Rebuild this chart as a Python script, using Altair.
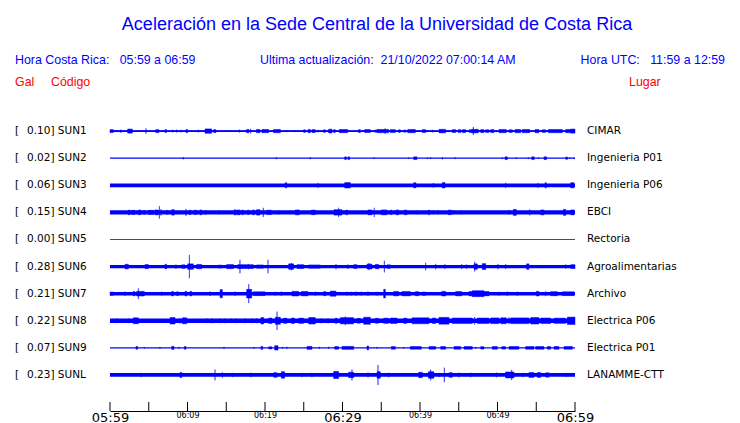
import altair as alt
import pandas as pd

# ---------------- data ----------------
stations = ["SUN1", "SUN2", "SUN3", "SUN4", "SUN5", "SUN6", "SUN7", "SUN8", "SUN9", "SUNL"]
peak_gal = ["0.10", "0.02", "0.06", "0.15", "0.00", "0.28", "0.21", "0.22", "0.07", "0.23"]
places = ["CIMAR", "Ingenieria P01", "Ingenieria P06", "EBCI", "Rectoria",
          "Agroalimentarias", "Archivo", "Electrica P06", "Electrica P01", "LANAMME-CTT"]
trace_colors = ["#0000ff", "#0000ff", "#0000ff", "#0000ff", "#ff0000",
                "#0000ff", "#0000ff", "#0000ff", "#0000ff", "#0000ff"]
# half thickness of the continuous noise band of each trace (row spacing = 10 units)
noise_level = [0.33, 0.0, 0.7, 0.75, 0.0, 0.6, 0.65, 0.8, 0.0, 0.7]

tick_minutes = [0, 5, 10, 15, 20, 25, 30, 35, 40, 45, 50, 55, 60]
label_minutes = [0, 10, 20, 30, 40, 50, 60]
label_text = ["05:59", "06:09", "06:19", "06:29", "06:39", "06:49", "06:59"]

# bursts per trace: (start minute, end minute, half amplitude)
sun1_events = [
    (0.0, 0.43, 0.55), (0.65, 0.65, 0.4), (1.0, 1.0, 0.4), (1.3, 1.5, 0.4), (2.28, 2.88, 0.75),
    (4.64, 4.64, 1.0), (5.9, 6.32, 0.55), (7.1, 7.3, 0.55), (8.09, 8.09, 0.5), (8.6, 8.6, 0.55),
    (9.16, 9.16, 0.5), (9.8, 10.0, 0.6), (11.4, 11.4, 0.5), (12.26, 13.12, 0.8), (13.38, 13.68, 0.55),
    (16.69, 16.69, 0.55), (17.63, 17.94, 0.6), (18.15, 18.15, 0.85), (18.9, 19.35, 0.6), (19.78, 19.78, 0.55),
    (19.61, 20.47, 0.6), (21.1, 21.98, 0.6), (22.84, 22.84, 0.4), (23.83, 23.83, 0.4), (24.99, 25.2, 0.5),
    (25.55, 25.85, 0.6), (26.06, 26.49, 0.55), (26.84, 26.84, 0.5), (27.57, 27.78, 0.5), (28.21, 28.64, 0.7),
    (28.86, 29.07, 0.55), (29.59, 30.66, 0.6), (32.08, 32.3, 0.55), (32.86, 33.59, 0.55), (34.15, 34.45, 0.4),
    (34.45, 35.95, 0.6), (35.5, 35.5, 1.0), (36.17, 36.81, 0.55), (37.24, 37.46, 0.5), (37.89, 38.19, 0.4),
    (38.41, 39.4, 0.6), (40.3, 40.73, 0.55), (40.95, 40.95, 0.4), (41.59, 41.59, 0.5), (42.45, 43.31, 0.65),
    (43.65, 43.65, 0.4), (44.17, 44.6, 0.55), (44.95, 45.25, 0.55), (45.46, 45.89, 0.55), (46.32, 46.67, 0.5),
    (46.88, 46.88, 1.5), (46.67, 47.53, 0.65), (47.83, 48.26, 0.55), (48.47, 48.9, 0.5), (49.12, 49.55, 0.55),
    (49.85, 49.85, 0.4), (50.19, 51.14, 0.6), (51.48, 51.91, 0.5), (52.26, 52.99, 0.6), (53.2, 54.15, 0.6),
    (54.84, 55.35, 0.6), (55.78, 56.21, 0.5), (56.56, 58.37, 0.6), (58.8, 59.44, 0.6), (59.44, 60.0, 0.75),
]
sun2_events = [
    (9.46, 9.46, 0.45), (21.46, 21.46, 0.4), (25.85, 25.85, 0.4), (30.28, 30.5, 0.5), (30.7, 30.92, 0.5),
    (34.1, 34.1, 0.3), (38.53, 38.53, 0.3), (39.18, 39.61, 0.5), (40.95, 40.95, 0.35), (41.38, 41.38, 0.35),
    (42.88, 42.88, 0.45), (44.52, 44.52, 0.35), (50.62, 50.62, 0.35), (50.97, 51.27, 0.5), (52.43, 52.43, 0.35),
    (53.98, 53.98, 0.35), (54.41, 54.75, 0.5), (55.27, 55.27, 0.35), (56.0, 56.34, 0.5), (58.8, 59.05, 0.4),
    (59.35, 59.35, 0.3), (59.9, 59.9, 0.35),
]
sun3_events = [
    (22.6, 22.8, 0.95), (26.84, 26.84, 0.9), (30.28, 31.01, 1.0), (39.18, 39.48, 0.95), (41.72, 41.72, 0.9),
    (42.88, 43.22, 1.0), (51.05, 51.05, 0.95), (55.22, 55.22, 0.9), (56.13, 56.3, 0.95), (59.44, 59.87, 0.95),
]
sun4_events = [
    (2.37, 2.58, 0.85), (2.8, 3.2, 0.75), (3.66, 4.0, 0.85), (4.3, 4.5, 0.7), (4.95, 5.6, 0.75),
    (5.8, 6.24, 0.9), (6.37, 6.37, 2.3), (6.58, 6.58, 1.2), (7.3, 7.5, 0.7), (7.96, 8.3, 1.0),
    (8.73, 8.73, 0.7), (9.8, 9.8, 1.3), (10.24, 10.45, 0.8), (10.88, 11.18, 0.8), (11.6, 11.83, 0.9),
    (12.26, 12.39, 0.7), (14.11, 14.11, 0.7), (16.04, 16.2, 1.0), (16.34, 16.78, 0.9), (17.0, 17.2, 0.85),
    (17.76, 17.94, 0.8), (18.41, 18.62, 0.9), (18.9, 19.35, 1.0), (19.78, 19.78, 1.7), (20.25, 20.81, 0.8),
    (21.76, 21.76, 0.8), (23.91, 24.43, 0.9), (25.98, 26.49, 0.85), (28.9, 29.93, 1.0), (29.5, 29.5, 1.7),
    (30.45, 30.66, 0.85), (32.08, 32.08, 0.6), (33.29, 33.8, 0.9), (34.1, 34.1, 1.7), (35.0, 35.74, 0.9),
    (36.17, 36.38, 0.8), (36.94, 37.24, 0.9), (37.98, 38.32, 0.85), (39.61, 39.61, 0.7), (41.07, 41.25, 0.85),
    (41.68, 41.68, 0.7), (42.36, 42.36, 0.75), (43.65, 44.04, 0.85), (44.3, 44.3, 0.8), (45.33, 45.33, 0.75),
    (51.48, 51.48, 0.9), (52.04, 52.43, 1.1), (54.15, 54.15, 1.1), (55.57, 56.0, 0.9), (58.5, 58.8, 1.1),
    (59.44, 59.87, 0.9),
]
sun5_events = []
sun6_events = [
    (1.94, 2.37, 0.85), (4.52, 4.95, 0.75), (7.1, 7.3, 0.85), (8.39, 8.6, 0.6), (9.25, 9.68, 0.65),
    (10.02, 10.75, 1.0), (10.24, 10.24, 4.3), (11.18, 11.83, 0.8), (12.17, 12.17, 0.6), (13.98, 14.41, 0.55),
    (15.05, 15.92, 0.75), (16.47, 18.5, 0.7), (16.77, 16.77, 2.5), (17.85, 17.85, 1.0), (18.9, 19.78, 0.6),
    (20.38, 20.38, 2.5), (23.05, 23.7, 1.0), (23.4, 23.4, 1.4), (24.13, 24.99, 0.7), (25.63, 27.14, 0.6),
    (29.16, 29.16, 1.0), (30.58, 30.79, 0.6), (31.44, 31.87, 0.7), (33.16, 33.8, 0.9), (33.4, 33.4, 1.3),
    (34.23, 34.66, 0.8), (35.4, 35.4, 2.15), (35.74, 36.17, 0.65), (40.73, 40.73, 1.4), (42.02, 42.02, 1.0),
    (43.2, 43.2, 0.9), (45.38, 45.38, 0.9), (45.98, 45.98, 0.8), (46.97, 47.4, 1.0), (47.05, 47.05, 1.8),
    (48.04, 48.47, 1.1), (50.06, 50.06, 1.0), (51.05, 51.05, 0.9), (53.76, 54.06, 1.0), (58.8, 58.8, 0.8),
    (59.44, 60.0, 0.7),
]
sun7_events = [
    (0.0, 0.43, 0.6), (1.94, 1.94, 0.8), (3.0, 3.23, 0.8), (3.44, 4.43, 0.85), (3.66, 3.66, 2.0),
    (6.67, 6.67, 0.75), (7.96, 8.17, 0.85), (8.6, 8.82, 0.7), (9.68, 9.9, 0.85), (10.32, 10.54, 0.85),
    (12.9, 12.9, 0.85), (14.2, 14.5, 1.5), (16.13, 16.13, 0.8), (17.63, 18.28, 1.6), (17.9, 17.9, 3.5),
    (18.5, 20.0, 0.7), (21.33, 21.33, 0.7), (22.1, 22.1, 0.8), (23.48, 24.34, 0.85), (24.69, 25.55, 0.8),
    (26.49, 26.49, 0.75), (27.57, 27.87, 0.75), (28.43, 29.16, 0.95), (30.58, 30.58, 0.7), (31.14, 31.14, 0.7),
    (31.74, 31.74, 0.8), (32.43, 32.43, 0.75), (33.29, 33.29, 0.85), (34.45, 34.45, 0.7), (35.31, 35.53, 1.6),
    (36.6, 37.24, 0.8), (37.67, 38.75, 0.8), (39.4, 39.83, 0.75), (40.3, 40.73, 0.6), (42.8, 43.31, 0.85),
    (44.6, 45.38, 0.8), (46.32, 48.9, 0.8), (46.75, 48.26, 1.1), (50.19, 50.19, 0.7), (51.27, 51.27, 0.8),
    (52.56, 52.56, 0.75), (55.01, 55.35, 0.85), (56.21, 56.21, 0.9), (56.86, 57.72, 0.75), (58.37, 59.87, 0.7),
]
sun8_events = [
    (0.86, 0.86, 0.9), (2.37, 2.37, 0.9), (3.0, 3.66, 1.1), (7.74, 8.39, 1.2), (9.03, 9.03, 1.0),
    (9.33, 9.9, 1.1), (12.47, 12.47, 0.9), (13.2, 13.2, 0.95), (14.2, 14.2, 0.9), (14.84, 14.84, 0.9),
    (15.6, 15.6, 0.85), (16.26, 16.26, 0.9), (17.42, 17.42, 0.9), (18.28, 18.28, 0.9), (18.9, 18.9, 0.9),
    (19.48, 19.82, 1.2), (20.47, 20.9, 1.0), (21.33, 21.98, 1.3), (21.55, 21.55, 3.4), (22.4, 22.84, 0.95),
    (23.4, 23.8, 1.0), (24.34, 24.99, 0.95), (25.63, 26.49, 1.2), (27.27, 27.27, 0.95), (28.13, 28.13, 0.95),
    (29.07, 29.29, 0.95), (29.72, 31.44, 1.15), (30.36, 30.36, 1.6), (31.87, 32.3, 0.9), (32.73, 33.59, 1.3),
    (34.23, 34.66, 0.9), (35.31, 35.95, 0.95), (36.17, 37.03, 1.0), (37.89, 38.32, 0.95), (38.97, 41.16, 1.1),
    (41.59, 42.02, 1.0), (42.45, 43.74, 1.25), (44.17, 46.75, 1.0), (47.05, 47.05, 1.4), (47.4, 48.9, 1.0),
    (49.12, 50.19, 1.05), (50.41, 51.14, 1.1), (51.48, 51.48, 1.3), (51.7, 54.06, 1.05), (54.28, 55.35, 1.2),
    (55.57, 56.86, 1.0), (57.29, 58.8, 0.95), (59.01, 60.0, 1.35),
]
sun9_events = [
    (3.35, 3.57, 0.5), (4.43, 4.43, 0.35), (6.45, 6.45, 0.35), (7.96, 8.26, 0.55), (8.9, 8.9, 0.4),
    (9.59, 9.8, 0.5), (14.71, 14.71, 0.4), (18.58, 18.58, 0.35), (19.48, 19.7, 0.55), (20.47, 20.9, 0.4),
    (21.25, 21.68, 0.8), (22.28, 22.28, 0.4), (22.84, 22.84, 0.4), (25.42, 26.06, 0.55), (27.01, 27.01, 0.4),
    (28.21, 28.21, 0.4), (28.99, 29.5, 0.5), (29.93, 31.44, 0.55), (33.16, 33.37, 0.7), (34.45, 34.45, 0.35),
    (36.3, 36.81, 0.5), (37.89, 37.89, 0.35), (38.75, 40.17, 0.5), (41.16, 42.02, 0.5), (42.67, 43.31, 0.5),
    (44.39, 45.25, 0.5), (45.68, 46.75, 0.5), (47.18, 47.18, 0.4), (47.83, 48.26, 0.45), (49.33, 49.98, 0.5),
    (50.54, 51.05, 0.45), (51.48, 52.77, 0.5), (53.63, 54.71, 0.5), (54.92, 56.0, 0.5), (56.43, 56.86, 0.5),
    (57.29, 57.94, 0.5), (58.58, 59.66, 0.5),
]
sunl_events = [
    (4.0, 4.0, 0.8), (9.03, 9.25, 0.95), (13.55, 13.55, 2.0), (14.5, 14.5, 1.0), (15.83, 15.83, 0.8),
    (18.2, 18.2, 0.85), (21.12, 21.55, 0.85), (22.1, 22.53, 1.2), (24.77, 24.77, 0.8), (26.06, 26.06, 0.8),
    (28.86, 29.5, 1.3), (30.79, 31.44, 1.0), (31.22, 31.22, 2.0), (33.29, 33.29, 0.9), (34.45, 34.88, 1.2),
    (34.58, 34.58, 3.7), (35.95, 35.95, 0.85), (39.83, 40.3, 1.0), (41.07, 41.8, 1.2), (41.38, 41.38, 2.0),
    (42.45, 42.45, 0.8), (43.14, 43.14, 2.7), (43.74, 44.17, 0.85), (45.03, 45.03, 0.9), (46.54, 46.54, 0.85),
    (49.85, 49.85, 0.9), (51.05, 52.13, 1.1), (51.83, 51.83, 1.9), (53.29, 53.29, 0.8), (54.06, 54.71, 0.9),
    (55.14, 55.57, 0.9), (56.21, 56.65, 0.8), (58.88, 58.88, 0.8),
]
station_events = [sun1_events, sun2_events, sun3_events, sun4_events, sun5_events,
                  sun6_events, sun7_events, sun8_events, sun9_events, sunl_events]

# ---------------- tables ----------------
ROW = 10
base_rows, event_rows = [], []
for i, st in enumerate(stations):
    yc = i * ROW
    base_rows.append({"station": st, "t0": 0, "t1": 60, "lo": yc - noise_level[i],
                      "hi": yc + noise_level[i], "color": trace_colors[i], "yc": yc,
                      "left": peak_gal[i] + "] " + st, "bracket": "[", "right": places[i]})
    for (s, e, a) in station_events[i]:
        event_rows.append({"t0": s, "t1": e, "lo": yc - a, "hi": yc + a, "color": trace_colors[i]})
base_df = pd.DataFrame(base_rows)
event_df = pd.DataFrame(event_rows)
tick_df = pd.DataFrame({"t": tick_minutes})

W, H = 465, 307
xscale = alt.Scale(domain=[0, 60], nice=False, zero=False)
yscale = alt.Scale(domain=[-10, 103.3], nice=False, zero=False, reverse=True)

label_js = "[" + ",".join("'" + s + "'" for s in label_text) + "][round(datum.value / 10)]"
xaxis = alt.Axis(
    values=label_minutes, labelExpr=label_js, ticks=False, grid=False, domain=True,
    domainColor="black", domainWidth=1, labelFont="DejaVu Sans", labelColor="black",
    labelFontSize={"condition": {"test": "datum.value % 30 == 0", "value": 13}, "value": 8},
    labelPadding=0, title=None, labelFlush=False, labelOverlap=False, labelBound=False)

# core line of every trace
core = alt.Chart(base_df).mark_rule(strokeWidth=1.2).encode(
    x=alt.X("t0:Q", scale=xscale, axis=xaxis),
    x2="t1:Q",
    y=alt.Y("yc:Q", scale=yscale, axis=None),
    stroke=alt.Stroke("color:N", scale=None),
)

# continuous noise band
band = alt.Chart(base_df).mark_rect().encode(
    x=alt.X("t0:Q", scale=xscale, axis=xaxis),
    x2="t1:Q",
    y=alt.Y("lo:Q", scale=yscale, axis=None),
    y2="hi:Q",
    fill=alt.Fill("color:N", scale=None),
)

events = alt.Chart(event_df).mark_rect(strokeWidth=0.5).encode(
    x=alt.X("t0:Q", scale=xscale, axis=xaxis),
    x2="t1:Q",
    y=alt.Y("lo:Q", scale=yscale, axis=None),
    y2="hi:Q",
    fill=alt.Fill("color:N", scale=None),
    stroke=alt.Stroke("color:N", scale=None),
)

ticks = alt.Chart(tick_df).mark_rule(color="black", strokeWidth=1).encode(
    x=alt.X("t:Q", scale=xscale, axis=xaxis),
    y=alt.value(H - 9),
    y2=alt.value(H),
)

brackets = alt.Chart(base_df).mark_text(
    align="left", baseline="middle", font="DejaVu Sans", fontSize=10.5, color="black"
).encode(x=alt.value(-95), y=alt.Y("yc:Q", scale=yscale, axis=None), text="bracket:N")

left_labels = alt.Chart(base_df).mark_text(
    align="left", baseline="middle", font="DejaVu Sans", fontSize=10.5, color="black"
).encode(x=alt.value(-83), y=alt.Y("yc:Q", scale=yscale, axis=None), text="left:N")

right_labels = alt.Chart(base_df).mark_text(
    align="left", baseline="middle", font="DejaVu Sans", fontSize=10.5, color="black"
).encode(x=alt.value(477), y=alt.Y("yc:Q", scale=yscale, axis=None), text="right:N")


def header(text, x, y, color, size, align="left"):
    return alt.Chart(pd.DataFrame({"txt": [text]})).mark_text(
        align=align, baseline="alphabetic", font="Liberation Sans", fontSize=size, color=color
    ).encode(x=alt.value(x), y=alt.value(y), text="txt:N")


BLUE, RED = "#0000ff", "#ff0000"
headers = [
    header("Aceleración en la Sede Central de la Universidad de Costa Rica", 267, -74.5, BLUE, 18, "center"),
    header("Hora Costa Rica:\u00a0\u00a0\u00a005:59 a 06:59", -95, -40.5, BLUE, 12.4),
    header("Ultima actualización:\u00a0\u00a021/10/2022 07:00:14 AM", 150, -40.5, BLUE, 12.4),
    header("Hora UTC:\u00a0\u00a0\u00a011:59 a 12:59", 615, -40.5, BLUE, 12.4, "right"),
    header("Gal", -95, -18.5, RED, 12.4),
    header("Código", -59, -18.5, RED, 12.4),
    header("Lugar", 519, -18.5, RED, 12.4),
]

chart = alt.layer(core, band, events, ticks, brackets, left_labels, right_labels, *headers).properties(
    width=W, height=H,
    autosize=alt.AutoSizeParams(type="none"),
    padding={"left": 102, "top": 96, "right": 151, "bottom": 26},
    background="white",
).configure_view(stroke=None)

chart.save("out.html", embed_options={"renderer": "svg", "actions": False})
